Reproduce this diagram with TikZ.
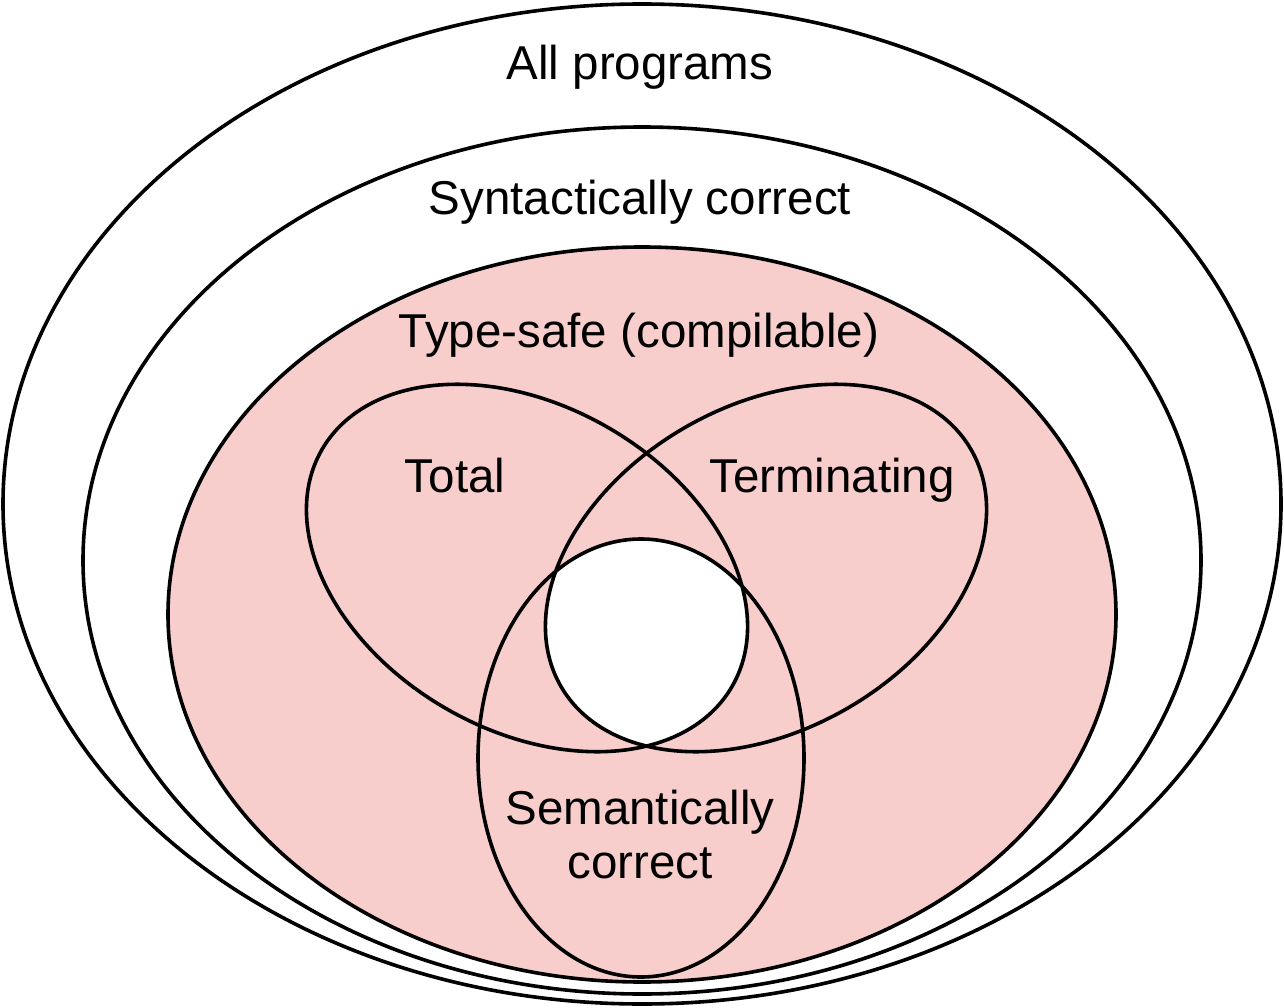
\documentclass[tikz,border=0pt]{standalone}
\usepackage{fontspec}
\setmainfont{Liberation Sans}
\definecolor{pinkfill}{HTML}{F8CECC}
\begin{document}
\begin{tikzpicture}[x=1pt,y=1pt,line width=3.6pt,
  lbl/.style={inner sep=0pt,anchor=base,font=\fontsize{47.5}{54}\selectfont},
  setline/.style={draw=black},
  totalset/.style={shift={(527,-568)},rotate=-30},
  termset/.style={shift={(766,-568)},rotate=30}]
\useasboundingbox (0,0) rectangle (1284,-1008);
\fill[white] (0,0) rectangle (1284,-1008);
% nested sets
\draw[setline,fill=white] (642,-504) ellipse [x radius=639,y radius=500];
\draw[setline,fill=white] (642,-560.5) ellipse [x radius=559,y radius=433.5];
\draw[setline,fill=pinkfill] (642,-614.5) ellipse [x radius=474,y radius=367.5];
% intersection of Total, Terminating and Semantically correct: white
\begin{scope}
  \clip[totalset] (0,0) ellipse [x radius=236.8,y radius=162.2];
  \clip[termset] (0,0) ellipse [x radius=236.8,y radius=162.2];
  \fill[white] (641,-758) ellipse [x radius=163,y radius=219];
\end{scope}
% Total and Terminating
\draw[setline,totalset] (0,0) ellipse [x radius=236.8,y radius=162.2];
\draw[setline,termset] (0,0) ellipse [x radius=236.8,y radius=162.2];
% Semantically correct
\draw[setline] (641,-758) ellipse [x radius=163,y radius=219];
% labels
\node[lbl] (allp) at (640,-80) {All programs};
\node[lbl] (synt) at (640,-215) {Syntactically correct};
\node[lbl] (type) at (639,-347) {Type-safe (compilable)};
\node[lbl] (total) at (455,-492) {Total};
\node[lbl] (term) at (832,-492) {Terminating};
\node[lbl,anchor=center,align=center] (sem) at (640,-835) {Semantically\\correct};
\end{tikzpicture}
\end{document}
